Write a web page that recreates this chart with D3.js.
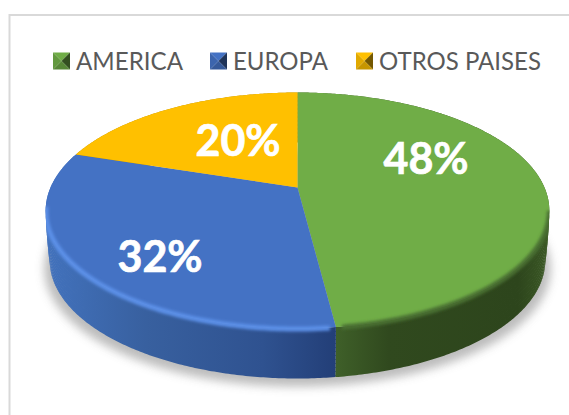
<!DOCTYPE html>
<html>
<head>
  <meta charset="utf-8">
  <script src="https://d3js.org/d3.v7.min.js"></script>
  <style>
    html, body { margin: 0; padding: 0; background: #fff; overflow: hidden; }
    svg { display: block; }
    .legend-label { font-family: Lato, "Open Sans", sans-serif; font-size: 25px; fill: #595959; }
    .pct-label { font-family: Lato, "Open Sans", sans-serif; font-size: 43px; font-weight: 700; fill: #fff; stroke: #fff; stroke-width: 0.7px; text-anchor: middle; }
  </style>
</head>
<body>
  <svg id="chart" width="569" height="415"></svg>
  <script>
    // datos
    const categories = ["AMERICA", "EUROPA", "OTROS PAISES"];
    const values = [48, 32, 20];
    const labels = ["48%", "32%", "20%"];
    const colors = ["#70ad47", "#4472c4", "#ffc000"];

    const width = 569, height = 415;
    const svg = d3.select("#chart");
    const defs = svg.append("defs");

    // geometria del disco (circulo visto en perspectiva)
    const cx = 297.5, cy = 187.5, rx = 247, ry = 113.5, k = 0.195, depth = 50;

    function project(a, shift = 0, scale = 1) {
      const u = Math.sin(a), v = -Math.cos(a), w = 1 - k * v;
      return [cx + scale * rx * u / w, cy + shift + ry * v / w];
    }

    const pie = d3.pie().sort(null).value(d => d);
    const slices = pie(values);
    const line = d3.line();

    function arcPoints(a0, a1, shift = 0, scale = 1) {
      const n = Math.max(2, Math.ceil((a1 - a0) / 0.01));
      return d3.range(n + 1).map(i => project(a0 + (a1 - a0) * i / n, shift, scale));
    }

    // el canto se estrecha un poco hacia abajo
    const wallScale = s => 1 - 0.016 * Math.pow(s / depth, 1.5);
    const step = 4;

    // filtros de desenfoque
    [["blurShadow", 5], ["blurRim", 1.8]].forEach(([id, dev]) => {
      defs.append("filter").attr("id", id)
        .attr("filterUnits", "userSpaceOnUse")
        .attr("x", 0).attr("y", 0).attr("width", width).attr("height", height)
        .append("feGaussianBlur").attr("stdDeviation", dev);
    });

    // degradados de la pared lateral
    const wallStops = [
      [["0%", "#3f6029"], ["25%", "#30491e"], ["85%", "#2d451c"], ["100%", "#3c5a26"]],
      [["0%", "#4272bd"], ["35%", "#38609f"], ["75%", "#2f5290"], ["100%", "#233f78"]],
      [["0%", "#b38600"], ["100%", "#b38600"]]
    ];
    const wallRange = [[335, 550], [45, 335], [45, 300]];
    wallStops.forEach((stops, i) => {
      const g = defs.append("linearGradient").attr("id", "wall" + i)
        .attr("gradientUnits", "userSpaceOnUse")
        .attr("x1", wallRange[i][0]).attr("x2", wallRange[i][1]).attr("y1", 0).attr("y2", 0);
      stops.forEach(s => g.append("stop").attr("offset", s[0]).attr("stop-color", s[1]));
    });

    // silueta completa, para recortar el bisel
    const bodyClip = defs.append("clipPath").attr("id", "bodyClip");
    d3.range(0, depth + 1, step).forEach(s => {
      bodyClip.append("path")
        .attr("d", line(arcPoints(0, 2 * Math.PI, s, wallScale(s))) + "Z");
    });

    // marco
    svg.append("path")
      .attr("d", `M${width},15H9.5V${height}`)
      .attr("fill", "none").attr("stroke", "#d9d9d9").attr("stroke-width", 2);

    // leyenda
    const swatchX = [53, 210, 356];
    const legendWidth = [107, 95, 162];
    const swatchSize = 17, swatchY = 52.5;
    const legend = svg.append("g");
    categories.forEach((name, i) => {
      const s = legend.append("g").attr("transform", `translate(${swatchX[i]},${swatchY})`);
      const c = d3.color(colors[i]), z = swatchSize, m = z / 2;
      const faces = [
        { p: [[0, 0], [z, 0], [m, m]], f: c.formatHex() },
        { p: [[0, 0], [0, z], [m, m]], f: c.darker(0.35).formatHex() },
        { p: [[z, 0], [z, z], [m, m]], f: c.darker(2.2).formatHex() },
        { p: [[0, z], [z, z], [m, m]], f: c.darker(0.7).formatHex() }
      ];
      faces.forEach(d => s.append("path").attr("d", line(d.p) + "Z").attr("fill", d.f));
      legend.append("text").attr("class", "legend-label")
        .attr("x", swatchX[i] + 23).attr("y", 70)
        .attr("textLength", legendWidth[i]).attr("lengthAdjust", "spacingAndGlyphs")
        .text(name);
    });

    // sombra
    svg.append("path")
      .attr("d", line(arcPoints(0, 2 * Math.PI, depth + 8, 1.005)) + "Z")
      .attr("fill", "#b5b5b5").attr("opacity", 0.9)
      .attr("filter", "url(#blurShadow)");

    // pared lateral, por tiras para cerrar bien la silueta
    const walls = svg.append("g");
    slices.forEach((d, i) => {
      d3.range(0, depth, step).forEach(s => {
        const s1 = Math.min(s + step + 1, depth);
        const pts = arcPoints(d.startAngle, d.endAngle, s, wallScale(s))
          .concat(arcPoints(d.startAngle, d.endAngle, s1, wallScale(s1)).reverse());
        walls.append("path").attr("d", line(pts) + "Z").attr("fill", `url(#wall${i})`);
      });
    });

    // cara superior
    const face = svg.append("g");
    slices.forEach((d, i) => {
      const pts = [[cx, cy]].concat(arcPoints(d.startAngle, d.endAngle));
      face.append("path").attr("d", line(pts) + "Z").attr("fill", colors[i]);
    });

    // bisel solo en el borde frontal
    const rimColors = ["#4a7030", "#5c90e8"];
    const frontStart = 100 * Math.PI / 180, frontEnd = 262 * Math.PI / 180;
    const rim = svg.append("g").attr("clip-path", "url(#bodyClip)");
    rimColors.forEach((col, i) => {
      const a0 = Math.max(slices[i].startAngle, frontStart) + 0.02;
      const a1 = Math.min(slices[i].endAngle, frontEnd) - 0.02;
      rim.append("path")
        .attr("d", line(arcPoints(a0, a1, 0.5)))
        .attr("fill", "none").attr("stroke", col).attr("stroke-width", 5)
        .attr("filter", "url(#blurRim)");
    });

    // etiquetas de porcentaje
    const labelX = [426, 160, 238], labelY = [174, 272, 156];
    labels.forEach((t, i) => {
      svg.append("text").attr("class", "pct-label")
        .attr("x", labelX[i]).attr("y", labelY[i]).text(t);
    });
  </script>
</body>
</html>
